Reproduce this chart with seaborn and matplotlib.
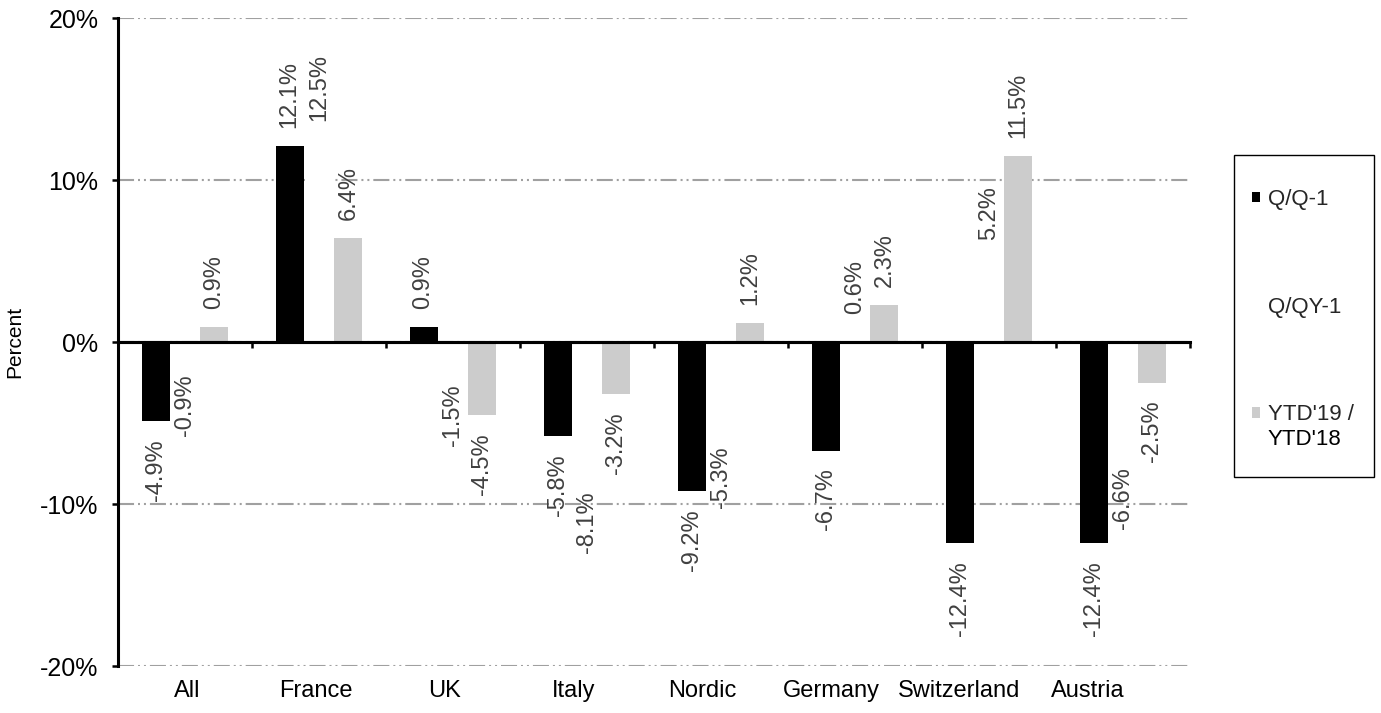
import numpy as np
import pandas as pd
import matplotlib.pyplot as plt
import matplotlib.ticker as mticker
import seaborn as sns
from matplotlib.patches import Patch, Rectangle

# data
regions = ['All', 'France', 'UK', 'Italy', 'Nordic', 'Germany', 'Switzerland', 'Austria']
series = ['Q/Q-1', 'Q/QY-1', "YTD'19 / YTD'18"]
legend_labels = ['Q/Q-1', 'Q/QY-1', "YTD'19 /"]
legend_extra = "YTD'18"
q_q1 = [-4.9, 12.1, 0.9, -5.8, -9.2, -6.7, -12.4, -12.4]
q_qy1 = [-0.9, 12.5, -1.5, -8.1, -5.3, 0.6, 5.2, -6.6]
ytd = [0.9, 6.4, -4.5, -3.2, 1.2, 2.3, 11.5, -2.5]
y_ticks = [-20, -10, 0, 10, 20]

df = pd.DataFrame({
    'Region': regions * len(series),
    'Series': np.repeat(series, len(regions)),
    'Value': q_q1 + q_qy1 + ytd,
})
palette = {series[0]: '#000000', series[1]: '#FFFFFF', series[2]: '#CCCCCC'}

sns.set_theme(style='white')
plt.rcParams['font.family'] = ['Liberation Sans', 'DejaVu Sans']

fig, ax = plt.subplots(figsize=(13.81, 7.13), dpi=100)
fig.subplots_adjust(left=118/1381, right=1190/1381, bottom=1-666/713, top=1-18/713)

sns.barplot(data=df, x='Region', y='Value', hue='Series', order=regions, hue_order=series,
            palette=palette, width=0.66, gap=0.05, linewidth=0, errorbar=None,
            legend=False, ax=ax)

# value labels on every bar (also the white ones)
for cont in ax.containers:
    ax.bar_label(cont, fmt='{:.1f}%', rotation=90, padding=13, fontsize=17, color='#404040')

ax.set_xlim(-0.5, len(regions) - 0.5)
ax.set_ylim(-20, 20)
ax.set_yticks(y_ticks)
ax.yaxis.set_major_formatter(mticker.FuncFormatter(lambda v, _: f'{v:.0f}%'))

# dash-dot-dot grid
ax.set_axisbelow(True)
ax.yaxis.grid(True, color='#A0A0A0', linewidth=1.5,
              linestyle=(0, (7.7, 1.9, 0.96, 1.9, 0.96, 1.9)))
ax.xaxis.grid(False)

for s in ['top', 'right', 'bottom']:
    ax.spines[s].set_visible(False)
ax.spines['left'].set_linewidth(2.2)
ax.spines['left'].set_color('black')

ax.tick_params(axis='y', left=True, length=4, width=1.8, color='black', direction='out',
               pad=10, labelsize=18, labelcolor='black')

# category labels sit a little off the group centres in the original
label_offset, label_step = 0.02, 0.96
ax.set_xticks(label_offset + label_step * np.arange(len(regions)), regions)
ax.tick_params(axis='x', bottom=False, length=0, pad=10, labelsize=17, labelcolor='black')
ax.set_xlabel('')
ax.set_ylabel('Percent', fontsize=15, color='black')
ax.yaxis.set_label_coords(-0.087, 0.5)

# zero line on top of the bars, with group separators
ax.axhline(0, color='black', linewidth=2.2, zorder=4)
secax = ax.secondary_xaxis(0, transform=ax.transData)
secax.set_zorder(5)
secax.set_xticks(np.arange(len(regions) + 1) - 0.5)
secax.tick_params(axis='x', bottom=True, length=4.5, width=1.8, color='black',
                  direction='out', labelbottom=False)
secax.spines['bottom'].set_linewidth(2.2)
secax.spines['bottom'].set_color('black')

# legend with a separate box around it
handles = [Patch(facecolor=palette[s], edgecolor='none') for s in series]
leg = fig.legend(handles, legend_labels, loc='upper left', bbox_to_anchor=(1252/1381, 1-189/713),
                 frameon=False, fontsize=16, handlelength=0.36, handleheight=0.36,
                 handletextpad=0.36, labelspacing=3.9, borderpad=0, borderaxespad=0)
fig.add_artist(Rectangle((1234/1381, 1-477/713), 140/1381, 322/713, transform=fig.transFigure,
                         fill=False, edgecolor='black', linewidth=1))

# second line of the last legend label, under the first one
fig.canvas.draw()
bb = leg.get_texts()[2].get_window_extent()
fig.text(bb.x0 / fig.bbox.width, (bb.y0 + bb.y1) / 2 / fig.bbox.height - 25/713, legend_extra,
         fontsize=16, color='black', ha='left', va='center')

fig.savefig('out.png', dpi=100)
